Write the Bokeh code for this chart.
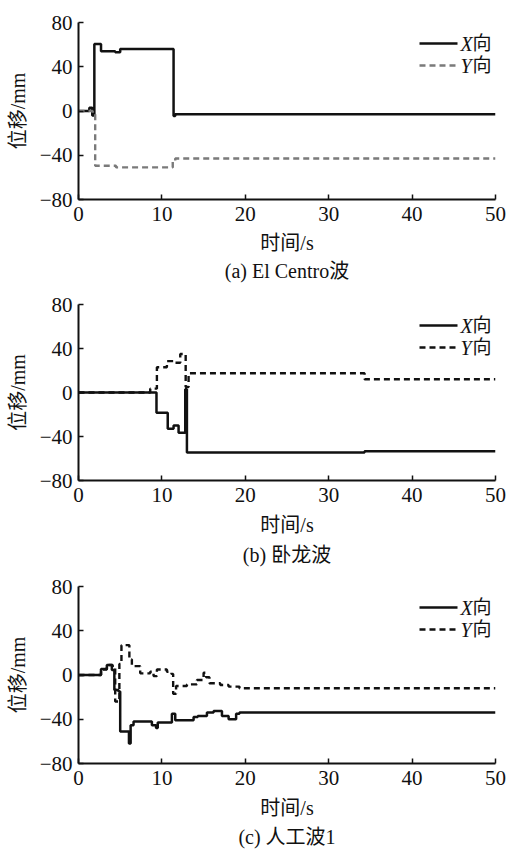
from bokeh.plotting import figure
from bokeh.layouts import column
from bokeh.models import Title, Label, Arrow, Range1d
from bokeh.embed import file_html
from bokeh.resources import INLINE

# ---------------- data ----------------
x_ticks = [0, 10, 20, 30, 40, 50]
y_ticks = [-80, -40, 0, 40, 80]
y_tick_labels = {-80: "\u221280", -40: "\u221240", 0: "0", 40: "40", 80: "80"}

x_label = "时间/s"
y_label = "位移/mm"
captions = ["(a) El Centro波", "(b) 卧龙波", "(c) 人工波1"]

# (a) El Centro — step breakpoints (time s, displacement mm)
a_t_x = [0, 1.3, 1.65, 1.9, 2.7, 4.4, 5.0, 11.4, 11.6, 50]
a_v_x = [0, 3, -4, 60.5, 54, 53, 56, -4.5, -3, -3]
a_t_y = [0, 1.7, 2.0, 4.5, 11.3, 11.6, 50]
a_v_y = [0, -3, -49.5, -51, -45, -43, -43]

# (b) Wolong
b_t_x = [0, 9.35, 10.7, 11.4, 12.0, 12.8, 13.0, 34.3, 50]
b_v_x = [0, -18.5, -33, -30, -36.5, 3, -54.5, -53.5, -53.5]
b_t_y = [0, 8.6, 9.4, 10.6, 11.6, 12.2, 12.85, 13.2, 34.3, 50]
b_v_y = [0, 3.5, 23, 28.5, 27, 35, 5, 17.5, 12, 12]

# (c) Artificial wave 1
c_t_x = [0, 2.7, 3.4, 4.0, 4.3, 4.8, 5.0, 6.05, 6.25, 6.6, 8.8, 9.3, 9.5, 11.2,
         11.6, 13.8, 14.3, 15.4, 16.2, 17.2, 18.0, 18.9, 19.3, 50]
c_v_x = [0, 5.5, 9, 4.5, -13.5, -15, -51, -62, -45.5, -42, -45.5, -48, -43, -35,
         -41, -38, -37, -34, -32.5, -37, -40, -35, -34, -34]
c_t_y = [0, 2.7, 3.4, 4.1, 4.4, 4.9, 5.15, 6.1, 6.4, 7.4, 8.6, 9.0, 9.4, 10.6,
         11.15, 11.35, 11.7, 13.0, 14.2, 15.0, 15.3, 15.7, 17.0, 18.0, 19.3, 50]
c_v_y = [0, 5, 9, 6, -24, 10, 27, 14, 8, 1.5, 3, -1, 5, 3, 1, -17, -10, -8.5,
         -4.5, 2, -2, -7.5, -9, -10.5, -12, -12]

SERIF = "Liberation Serif"
MIXED = "'Liberation Serif', 'Noto Sans CJK SC'"
DASH = "6 4"
INK = "#111111"


def panel(tx, vx, ty, vy, caption, y_color, height, border_top,
          border_bottom, label_standoff, title_standoff):
    p = figure(width=508, height=height, x_range=Range1d(0, 50),
               y_range=Range1d(-80, 80), output_backend="svg",
               toolbar_location=None, min_border_left=78, min_border_right=13,
               min_border_top=border_top, min_border_bottom=border_bottom)
    p.outline_line_color = None
    p.grid.visible = False
    p.background_fill_color = "white"
    p.border_fill_color = "white"

    p.step(tx, vx, mode="after", line_color=INK, line_width=2.5)
    p.step(ty, vy, mode="after", line_color=y_color, line_width=2.4,
           line_dash=DASH)

    for ax in (p.xaxis[0], p.yaxis[0]):
        ax.axis_line_width = 2
        ax.axis_line_color = INK
        ax.major_tick_in = 5
        ax.major_tick_out = 0
        ax.major_tick_line_width = 1.5
        ax.major_tick_line_color = INK
        ax.minor_tick_line_color = None
        ax.major_label_text_font = SERIF
        ax.major_label_text_font_size = "21px"
        ax.major_label_text_color = INK
        ax.axis_label_text_font = MIXED
        ax.axis_label_text_font_size = "20px"
        ax.axis_label_text_font_style = "normal"
        ax.axis_label_text_color = INK
    p.xaxis.major_label_standoff = 7
    p.yaxis.major_label_standoff = 6
    p.xaxis.ticker = x_ticks
    p.yaxis.ticker = y_ticks
    p.yaxis.major_label_overrides = y_tick_labels
    p.xaxis.axis_label = x_label
    p.yaxis.axis_label = y_label
    p.xaxis.axis_label_standoff = label_standoff
    p.yaxis.axis_label_standoff = 8

    t = Title(text=caption, align="center", text_font=MIXED,
              text_font_size="20px", text_font_style="normal",
              text_color=INK, standoff=title_standoff)
    p.add_layout(t, "below")

    # legend (screen units relative to the frame)
    fh = height - border_top - border_bottom
    rows = [("X", INK, None, fh - 21), ("Y", y_color, DASH, fh - 43)]
    for name, col, dash, yy in rows:
        kw = dict(line_dash=dash) if dash else {}
        p.add_layout(Arrow(end=None, x_start=341, y_start=yy, x_end=379,
                           y_end=yy, start_units="screen", end_units="screen",
                           line_color=col, line_width=2.4, **kw))
        p.add_layout(Label(x=382, y=yy, x_units="screen", y_units="screen",
                           text=name, text_font=SERIF,
                           text_font_style="italic", text_font_size="20px",
                           text_baseline="middle", text_color=INK))
        p.add_layout(Label(x=394, y=yy, x_units="screen", y_units="screen",
                           text="向", text_font=MIXED, text_font_size="19px",
                           text_baseline="middle", text_color=INK))
    return p


pa = panel(a_t_x, a_v_x, a_t_y, a_v_y, captions[0], "#7a7a7a",
           290, 22, 91, 8, 2)
pb = panel(b_t_x, b_v_x, b_t_y, b_v_y, captions[1], INK,
           280, 14, 90, 9, 7)
pc = panel(c_t_x, c_v_x, c_t_y, c_v_y, captions[2], INK,
           280, 16, 87, 9, 5)

layout = column(pa, pb, pc, spacing=0)
open("out.html", "w").write(file_html(layout, INLINE))
